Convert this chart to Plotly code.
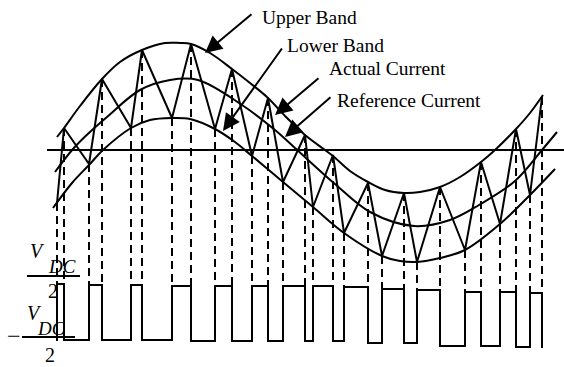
import plotly.graph_objects as go

# ---- data (pixel-space schematic coordinates) ----
upper_x = [57, 64, 80, 102, 120, 142, 165, 180, 191, 210, 232, 250, 268, 285, 305, 325, 333, 350, 368, 385, 404, 420, 440, 460, 481, 495, 516, 530, 543]
upper_y = [137, 128, 106, 79, 62, 50, 43, 43, 44, 53, 69, 83, 98, 116, 135, 150, 156, 171, 182, 190, 193, 192, 187, 177, 162, 150, 129, 113, 95]

ref_x = [55, 73, 90, 107, 140, 170, 198, 242, 275, 295, 335, 370, 414, 450, 479, 515, 542, 557]
ref_y = [172, 149, 132, 117, 90, 80, 80, 105, 130, 148, 184, 212, 226, 220, 205, 181, 150, 132]

lower_x = [53, 72, 89, 103, 131, 150, 172, 190, 215, 235, 252, 283, 313, 344, 382, 400, 417, 440, 465, 500, 530, 555]
lower_y = [208, 183, 165, 150, 128, 120, 118, 119, 129, 142, 156, 182, 207, 233, 256, 261, 262, 258, 250, 224, 195, 169]

zig_x = [57, 64, 89, 102, 131, 142, 172, 191, 215, 232, 252, 268, 283, 305, 313, 333, 344, 368, 382, 404, 417, 440, 465, 481, 500, 516, 530, 542]
zig_y = [203, 128, 164, 79, 128, 50, 118, 44, 129, 69, 156, 98, 182, 135, 207, 155, 233, 183, 256, 193, 262, 187, 250, 162, 224, 129, 195, 97]

# square-wave level of each interval between consecutive switching instants
pulse_level = [284, 340, 285, 340, 285, 340, 286, 341, 286, 341, 286, 341, 286, 341,
               286, 341, 287, 343, 289, 343, 290, 346, 292, 346, 292, 347, 293]
wave_start_level = 341
wave_end_level = 348

labels = ["Upper Band", "Lower Band", "Actual Current", "Reference Current"]

# ---- build figure ----
fig = go.Figure()
LC = "black"

for xs, ys in [(upper_x, upper_y), (ref_x, ref_y), (lower_x, lower_y)]:
    fig.add_trace(go.Scatter(x=xs, y=ys, mode="lines",
                             line=dict(color=LC, width=2, shape="spline", smoothing=1.0),
                             hoverinfo="skip"))

# actual current zigzag
fig.add_trace(go.Scatter(x=zig_x, y=zig_y, mode="lines",
                         line=dict(color=LC, width=2), hoverinfo="skip"))

# square wave
sx, sy = [zig_x[0]], [wave_start_level]
for i, lev in enumerate(pulse_level):
    sx += [zig_x[i], zig_x[i + 1]]
    sy += [lev, lev]
sx.append(zig_x[-1]); sy.append(wave_end_level)
fig.add_trace(go.Scatter(x=sx, y=sy, mode="lines",
                         line=dict(color=LC, width=2), hoverinfo="skip"))

# dashed projections from each switching point down to the square wave
dx, dy = [], []
for i, (x0, y0) in enumerate(zip(zig_x, zig_y)):
    neighbours = [pulse_level[j] for j in (i - 1, i) if 0 <= j < len(pulse_level)]
    dx += [x0, x0, None]
    dy += [y0, min(neighbours), None]
fig.add_trace(go.Scatter(x=dx, y=dy, mode="lines",
                         line=dict(color=LC, width=2, dash="8px,5px"), hoverinfo="skip"))

shapes = [
    dict(type="line", x0=47, x1=564, y0=150, y1=150, line=dict(color=LC, width=2)),
    dict(type="line", x0=27, x1=80, y0=276, y1=276, line=dict(color=LC, width=2)),
    dict(type="line", x0=22, x1=75, y0=337, y1=337, line=dict(color=LC, width=2)),
]

FONT = "Liberation Serif"
ann = []
# label texts
for txt, lx, ly in zip(labels, [260, 285, 327, 335], [17, 45, 68, 100]):
    ann.append(dict(x=lx, y=ly, text=txt, showarrow=False, xanchor="left", yanchor="middle",
                    font=dict(family=FONT, size=19.5, color=LC)))
# arrows (tip, tail)
for (tx, ty), (ax, ay) in [((205, 53), (253, 13)), ((223, 131), (283, 47)),
                           ((275, 115), (320, 77)), ((285, 137), (332, 96))]:
    ann.append(dict(x=tx, y=ty, ax=ax, ay=ay, axref="x", ayref="y", text="",
                    showarrow=True, arrowhead=2, arrowsize=1.7, arrowwidth=2, arrowcolor=LC))

# V_DC / 2 fractions
def t(x, y, s, size=20):
    ann.append(dict(x=x, y=y, text=s, showarrow=False, xanchor="center", yanchor="middle",
                    font=dict(family=FONT, size=size, color=LC)))

t(37, 251, "<i>V</i>")
t(62, 266, "<i>DC</i>", 19)
t(53, 291, "2")
t(14, 336, "\u2212", 24)
t(34, 313, "<i>V</i>")
t(51, 328, "<i>DC</i>", 19)
t(50, 355, "2")

fig.update_layout(
    width=564, height=367, margin=dict(l=0, r=0, t=0, b=0),
    paper_bgcolor="white", plot_bgcolor="white", showlegend=False,
    xaxis=dict(range=[0, 564], visible=False, fixedrange=True),
    yaxis=dict(range=[367, 0], visible=False, fixedrange=True),
    shapes=shapes, annotations=ann,
)

fig.write_html("out.html", config={"displayModeBar": False},
               post_script="document.body.style.margin='0';document.body.style.overflow='hidden';")
